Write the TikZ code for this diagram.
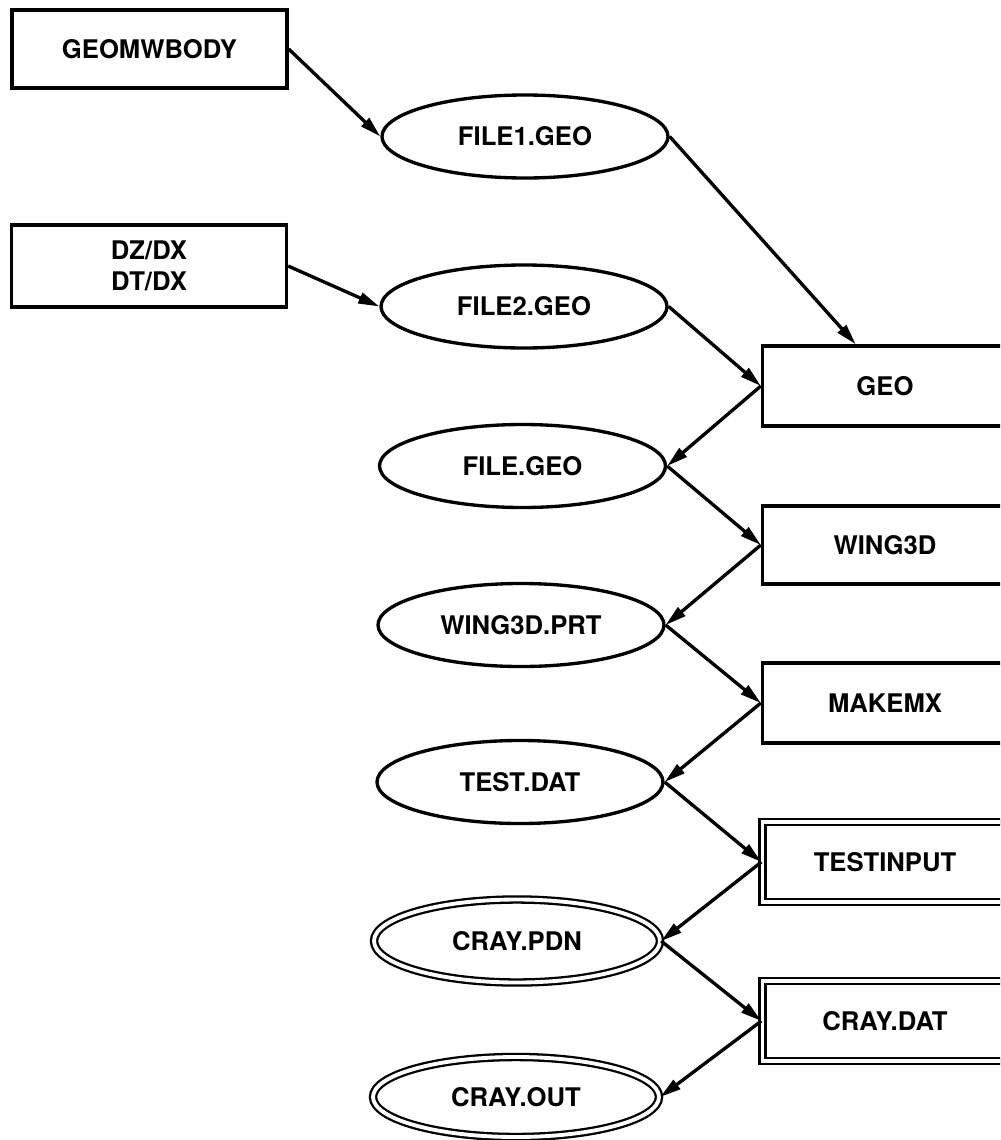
\documentclass[tikz,border=0pt]{standalone}
\usepackage{fontspec}
\setmainfont{TeX Gyre Heros}
\usetikzlibrary{shapes.geometric, arrows.meta}

\begin{document}
\begin{tikzpicture}[>={Triangle[length=0.42cm, width=0.22cm]}, line width=1.9pt,
    font=\fontsize{14.6}{17.5}\selectfont\bfseries,
    progbox/.style={draw, rectangle, minimum width=4.9cm, minimum height=1.6cm, inner sep=0pt, align=center},
    fileoval/.style={draw, ellipse, minimum width=5.72cm, minimum height=1.66cm, inner sep=0pt},
    twoline/.style={double, line width=1.3pt, double distance=2.2pt}]

        \clip (0,0) rectangle (20,-22.8);

        % GIRDI KUTULARI
        \node[progbox, minimum width=5.5cm, minimum height=1.56cm] (geomwbody) at (2.99,-0.98) {GEOMWBODY};
        \node[progbox, minimum width=5.5cm, minimum height=1.64cm] (dzdx) at (2.98,-5.32) {DZ/DX\\DT/DX};

        % DOSYALAR (SOL SUTUN)
        \node[fileoval] (file1) at (10.5,-2.73) {FILE1.GEO};
        \node[fileoval] (file2) at (10.48,-6.13) {FILE2.GEO};
        \node[fileoval] (filegeo) at (10.45,-9.32) {FILE.GEO};
        \node[fileoval] (wingprt) at (10.42,-12.5) {WING3D.PRT};
        \node[fileoval] (testdat) at (10.4,-15.64) {TEST.DAT};
        \node[fileoval, twoline] (craypdn) at (10.34,-18.82) {CRAY.PDN};
        \node[fileoval, twoline, minimum height=1.6cm] (crayout) at (10.32,-21.94) {CRAY.OUT};

        % PROGRAMLAR (SAG SUTUN)
        \node[progbox] (geo) at (17.7,-7.72) {GEO};
        \node[progbox, minimum height=1.56cm] (wing) at (17.7,-10.9) {WING3D};
        \node[progbox] (makemx) at (17.7,-14.06) {MAKEMX};
        \node[progbox, twoline] (testinput) at (17.7,-17.24) {TESTINPUT};
        \node[progbox, twoline] (craydat) at (17.7,-20.42) {CRAY.DAT};

        % Oklar
        \draw[->] (geomwbody.east) -- (file1.west);
        \draw[->] (dzdx.east) -- (file2.west);
        \draw[->] (file1.east) -- ([xshift=1.9cm]geo.north west);
        \draw[->] (file2.east) -- (geo.west);
        \draw[->] (geo.west) -- (filegeo.east);
        \draw[->] (filegeo.east) -- (wing.west);
        \draw[->] (wing.west) -- (wingprt.east);
        \draw[->] (wingprt.east) -- (makemx.west);
        \draw[->] (makemx.west) -- (testdat.east);
        \draw[->] (testdat.east) -- (testinput.west);
        \draw[->] (testinput.west) -- (craypdn.east);
        \draw[->] (craypdn.east) -- (craydat.west);
        \draw[->] (craydat.west) -- (crayout.east);
    \end{tikzpicture}
\end{document}
